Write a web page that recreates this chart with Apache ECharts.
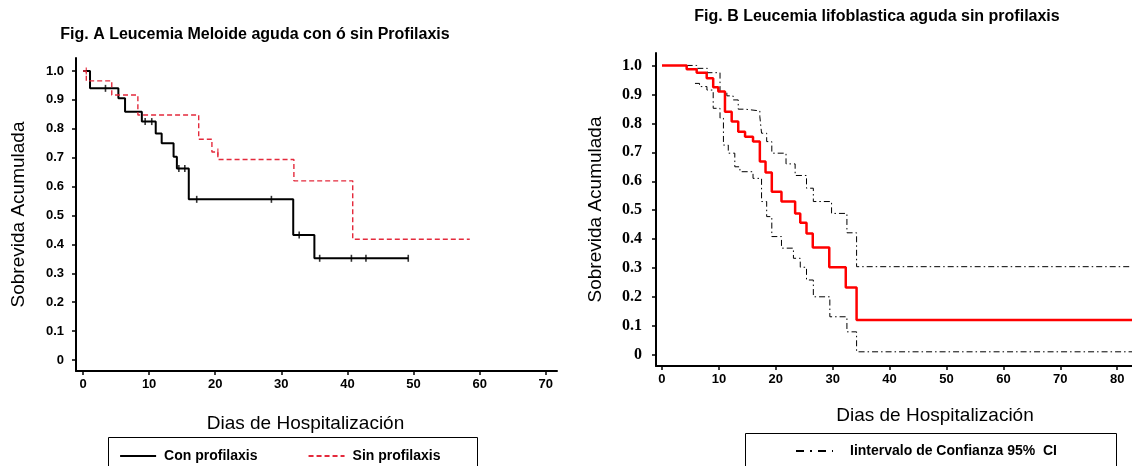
<!DOCTYPE html>
<html><head><meta charset="utf-8">
<script src="https://cdn.jsdelivr.net/npm/echarts@6/dist/echarts.min.js"></script>
<style>html,body{margin:0;padding:0;background:#fff}#c{width:1132px;height:466px}</style>
</head><body><div id="c"></div>
<script>
// ---- texts ----
const titleA = 'Fig. A Leucemia Meloide aguda con ó sin Profilaxis';
const titleB = 'Fig. B Leucemia lifoblastica aguda sin profilaxis';
const yName = 'Sobrevida Acumulada';
const xName = 'Dias de Hospitalización';
const seriesNamesA = ['Con profilaxis', 'Sin profilaxis'];
const kmNameB = 'Sobrevida';
const ciName = 'Iintervalo de Confianza 95%  CI';

// ---- tick labels ----
const xTicksA = [0, 10, 20, 30, 40, 50, 60, 70];
const xTicksB = [0, 10, 20, 30, 40, 50, 60, 70, 80];
const yTicks = [0, 0.1, 0.2, 0.3, 0.4, 0.5, 0.6, 0.7, 0.8, 0.9, 1.0];

// ---- Fig. A : Con profilaxis (step starts at day, survival from then on) ----
const conDays = [0, 1.06, 5.35, 6.36, 8.9, 11.0, 11.9, 13.7, 14.2, 16.0, 31.8, 35.0, 49.2];
const conSurv = [1.0, 0.94, 0.906, 0.859, 0.825, 0.784, 0.75, 0.703, 0.663, 0.556, 0.433, 0.352, 0.352];
const conCensDays = [3.4, 9.4, 10.4, 14.5, 15.4, 17.2, 28.5, 32.7, 35.8, 40.6, 42.8, 49.2];
const conCensSurv = [0.94, 0.825, 0.825, 0.663, 0.663, 0.556, 0.556, 0.433, 0.352, 0.352, 0.352, 0.352];

// ---- Fig. A : Sin profilaxis ----
const sinDays = [0, 0.5, 4.35, 8.3, 17.5, 19.5, 20.4, 31.9, 40.8, 58.5];
const sinSurv = [1.0, 0.966, 0.917, 0.848, 0.764, 0.72, 0.694, 0.62, 0.418, 0.418];
const sinCensDays = [0.5, 20.4];
const sinCensSurv = [1.0, 0.72];

// ---- Fig. B : Kaplan-Meier estimate ----
const kmDays = [0, 4.34, 6.1, 7.86, 9.0, 9.9, 11.07, 12.25, 13.4, 14.6, 16.0, 17.2, 18.2, 19.3, 21.0, 23.4, 24.3, 25.4, 26.5, 29.4, 32.3, 34.2, 82.6];
const kmSurv = [1.0, 0.987, 0.975, 0.956, 0.925, 0.91, 0.84, 0.806, 0.771, 0.754, 0.737, 0.668, 0.63, 0.564, 0.53, 0.489, 0.457, 0.42, 0.371, 0.303, 0.233, 0.121, 0.121];

// ---- Fig. B : upper 95% CI ----
const upDays = [4.34, 6.1, 8.0, 10.2, 11.4, 12.5, 13.4, 14.6, 17.2, 17.5, 18.4, 19.3, 21.8, 23.4, 25.4, 26.6, 29.8, 32.5, 34.2, 82.6];
const upSurv = [1.0, 0.99, 0.975, 0.91, 0.895, 0.881, 0.849, 0.843, 0.823, 0.766, 0.737, 0.697, 0.66, 0.62, 0.576, 0.53, 0.489, 0.422, 0.305, 0.305];

// ---- Fig. B : lower 95% CI ----
const loDays = [5.8, 6.6, 7.9, 9.0, 10.2, 10.8, 11.65, 12.8, 13.7, 16.0, 17.5, 18.4, 19.3, 21.0, 23.1, 24.3, 25.4, 26.6, 29.5, 32.5, 34.2, 82.6];
const loSurv = [0.938, 0.927, 0.915, 0.852, 0.818, 0.725, 0.697, 0.65, 0.633, 0.61, 0.53, 0.478, 0.409, 0.369, 0.334, 0.303, 0.259, 0.201, 0.132, 0.08, 0.011, 0.011];

const zip = (a, b) => a.map((v, i) => [v, b[i]]);
const yFmt = v => (Math.abs(v) < 1e-9 ? '0' : v.toFixed(1));
const SANS = 'Arial, "Liberation Sans", Helvetica, sans-serif';
const SERIF = '"Times New Roman", "Liberation Serif", serif';

const chart = echarts.init(document.getElementById('c'), null, { renderer: 'canvas' });

function xAxisCfg(gridIndex, min, max, ticks, gap, pad, fontSize) {
  return {
    type: 'value', gridIndex, min, max,
    axisLine: { show: true, onZero: false, lineStyle: { color: '#000', width: 2 } },
    axisTick: { show: true, length: 4, customValues: ticks, lineStyle: { color: '#000', width: 1.5 } },
    axisLabel: { customValues: ticks, margin: 7, color: '#000', fontFamily: SANS, fontWeight: 'bold', fontSize },
    splitLine: { show: false },
    name: xName, nameLocation: 'middle', nameGap: gap,
    nameTextStyle: { color: '#000', fontFamily: SANS, fontSize: 19, padding: pad }
  };
}
function yAxisCfg(gridIndex, min, max, gap, font, fontSize, margin) {
  return {
    type: 'value', gridIndex, min, max,
    axisLine: { show: true, onZero: false, lineStyle: { color: '#000', width: 2 } },
    axisTick: { show: true, length: 4, customValues: yTicks, lineStyle: { color: '#000', width: 1.5 } },
    axisLabel: { customValues: yTicks, formatter: yFmt, margin, color: '#000', fontFamily: font, fontWeight: 'bold', fontSize },
    splitLine: { show: false },
    name: yName, nameLocation: 'middle', nameGap: gap, nameRotate: 90,
    nameTextStyle: { color: '#000', fontFamily: SANS, fontSize: 19 }
  };
}

const option = {
  backgroundColor: '#fff',
  animation: false,
  grid: [
    { left: 76, top: 58, width: 481, height: 313 },
    { left: 656, top: 53, width: 476, height: 313 }
  ],
  xAxis: [
    xAxisCfg(0, -1.06, 71.7, xTicksA, 43, [0, 22, 0, 0], 13),
    xAxisCfg(1, -1.05, 82.6, xTicksB, 40, [0, 0, 0, 82], 13)
  ],
  yAxis: [
    yAxisCfg(0, -0.038, 1.045, 48, SANS, 13, 12),
    yAxisCfg(1, -0.038, 1.043, 51, SERIF, 16, 14)
  ],
  legend: [
    {
      data: seriesNamesA, left: 119, top: 449, padding: 0, itemWidth: 36, itemHeight: 14, itemGap: 50,
      itemStyle: { opacity: 0, borderWidth: 0 },
      lineStyle: { width: 2.2 },
      textStyle: { color: '#000', fontFamily: SANS, fontWeight: 'bold', fontSize: 14, padding: [0, 0, 0, 3] },
      selectedMode: false
    },
    {
      data: [ciName], left: 795, top: 444, padding: 0, itemWidth: 37, itemHeight: 14,
      itemStyle: { opacity: 0, borderWidth: 0 },
      lineStyle: { width: 2, type: [8, 6, 2, 6] },
      textStyle: { color: '#000', fontFamily: SANS, fontWeight: 'bold', fontSize: 14, padding: [0, 0, 0, 12] },
      selectedMode: false
    }
  ],
  graphic: [
    { type: 'text', style: { text: titleA, x: 255, y: 35, align: 'center', verticalAlign: 'middle', fill: '#000', font: 'bold 16px ' + SANS } },
    { type: 'text', style: { text: titleB, x: 877, y: 17, align: 'center', verticalAlign: 'middle', fill: '#000', font: 'bold 16px ' + SANS } },
    { type: 'rect', shape: { x: 108.5, y: 437.5, width: 369, height: 40 }, style: { fill: 'none', stroke: '#000', lineWidth: 1 } },
    { type: 'rect', shape: { x: 745.5, y: 433.5, width: 371, height: 40 }, style: { fill: 'none', stroke: '#000', lineWidth: 1 } }
  ],
  series: [
    {
      name: seriesNamesA[0], type: 'line', step: 'end', xAxisIndex: 0, yAxisIndex: 0,
      data: zip(conDays, conSurv), showSymbol: false, symbol: 'none',
      lineStyle: { color: '#000', width: 2 }, itemStyle: { color: '#000' }
    },
    {
      name: seriesNamesA[1], type: 'line', step: 'end', xAxisIndex: 0, yAxisIndex: 0,
      data: zip(sinDays, sinSurv), showSymbol: false, symbol: 'none',
      lineStyle: { color: '#e42a3c', width: 1.4, type: [5, 3] }, itemStyle: { color: '#e42a3c' }
    },
    {
      name: 'censor-con', type: 'scatter', xAxisIndex: 0, yAxisIndex: 0,
      data: zip(conCensDays, conCensSurv), symbol: 'rect', symbolSize: [1.6, 7],
      itemStyle: { color: '#000' }
    },
    {
      name: 'censor-sin', type: 'scatter', xAxisIndex: 0, yAxisIndex: 0,
      data: zip(sinCensDays, sinCensSurv), symbol: 'rect', symbolSize: [1.4, 7],
      itemStyle: { color: '#e42a3c' }
    },
    {
      name: ciName, type: 'line', step: 'end', xAxisIndex: 1, yAxisIndex: 1,
      data: zip(upDays, upSurv), showSymbol: false, symbol: 'none',
      lineStyle: { color: '#000', width: 1, type: [6, 3, 1.5, 3] }, itemStyle: { color: '#000' }
    },
    {
      name: ciName, type: 'line', step: 'end', xAxisIndex: 1, yAxisIndex: 1,
      data: zip(loDays, loSurv), showSymbol: false, symbol: 'none',
      lineStyle: { color: '#000', width: 1, type: [6, 3, 1.5, 3] }, itemStyle: { color: '#000' }
    },
    {
      name: kmNameB, type: 'line', step: 'end', xAxisIndex: 1, yAxisIndex: 1,
      data: zip(kmDays, kmSurv), showSymbol: false, symbol: 'none',
      lineStyle: { color: '#ff0000', width: 2.5 }, itemStyle: { color: '#ff0000' }
    }
  ]
};
chart.setOption(option);
</script>
</body></html>
